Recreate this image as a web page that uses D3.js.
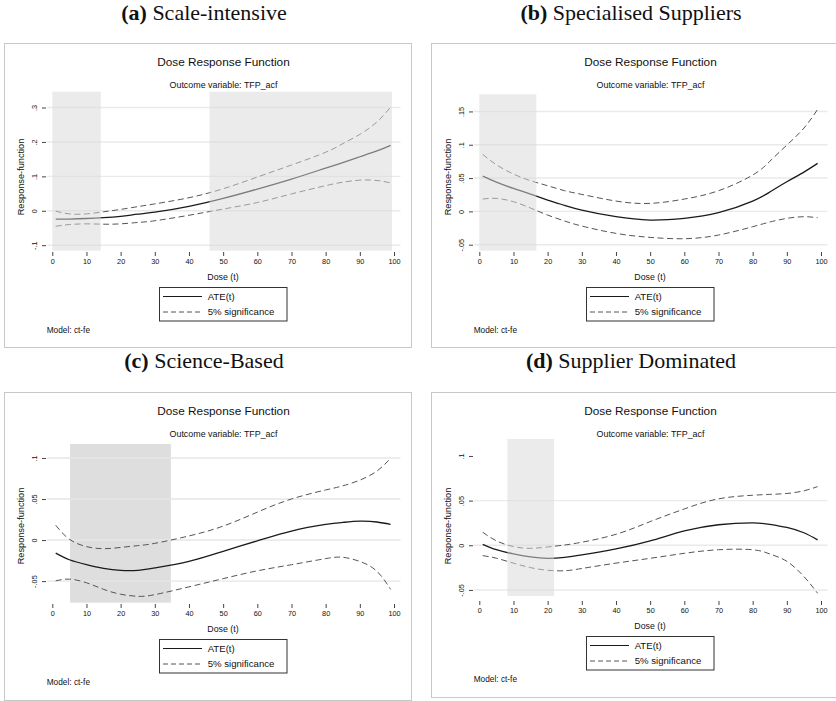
<!DOCTYPE html>
<html>
<head>
<meta charset="utf-8">
<script src="https://cdn.jsdelivr.net/npm/d3@7"></script>
<style>
body { margin: 0; background: #fff; }
svg { display: block; }
</style>
</head>
<body>
<div id="chart"></div>
<script>
// dose grid shared by all four panels
const dose = [1, 5, 10, 15, 20, 25, 30, 40, 50, 60, 70, 80, 85, 90, 95, 99];
const xTicks = [0, 10, 20, 30, 40, 50, 60, 70, 80, 90, 100];

// (a) Scale-intensive
const ateA = [-0.0245, -0.024, -0.0225, -0.020, -0.016, -0.010, -0.004, 0.013, 0.036, 0.063, 0.092, 0.124, 0.140, 0.157, 0.174, 0.190];
const upA  = [-0.001, -0.009, -0.009, -0.003, 0.004, 0.012, 0.020, 0.038, 0.064, 0.098, 0.133, 0.170, 0.195, 0.222, 0.258, 0.301];
const loA  = [-0.045, -0.040, -0.038, -0.039, -0.038, -0.034, -0.029, -0.013, 0.005, 0.024, 0.049, 0.073, 0.083, 0.089, 0.088, 0.081];
const yTicksA = [-0.1, 0, 0.1, 0.2, 0.3];
const yLabelsA = ["-.1", "0", ".1", ".2", ".3"];
const shadeA = [[0, 14.2], [46, 99.4]];

// (b) Specialised Suppliers
const ateB = [0.053, 0.044, 0.0345, 0.026, 0.017, 0.009, 0.002, -0.008, -0.013, -0.0105, -0.002, 0.0155, 0.029, 0.0445, 0.059, 0.072];
const upB  = [0.0855, 0.070, 0.056, 0.046, 0.0385, 0.031, 0.0255, 0.0155, 0.012, 0.0185, 0.031, 0.0545, 0.075, 0.0995, 0.125, 0.153];
const loB  = [0.0185, 0.0195, 0.0145, 0.005, -0.0055, -0.0145, -0.022, -0.033, -0.039, -0.041, -0.0355, -0.023, -0.016, -0.0105, -0.008, -0.0095];
const yTicksB = [-0.05, 0, 0.05, 0.1, 0.15];
const yLabelsB = ["-.05", "0", ".05", ".1", ".15"];
const shadeB = [[0, 16.7]];

// (c) Science-Based
const ateC = [-0.016, -0.024, -0.030, -0.0345, -0.037, -0.037, -0.034, -0.026, -0.0137, -0.001, 0.011, 0.019, 0.0215, 0.023, 0.022, 0.019];
const upC  = [0.018, 0.001, -0.008, -0.0105, -0.009, -0.0068, -0.004, 0.005, 0.017, 0.034, 0.050, 0.061, 0.066, 0.073, 0.084, 0.0996];
const loC  = [-0.0496, -0.0476, -0.052, -0.060, -0.066, -0.0685, -0.0665, -0.057, -0.047, -0.0375, -0.030, -0.0226, -0.021, -0.026, -0.038, -0.060];
const yTicksC = [-0.05, 0, 0.05, 0.1];
const yLabelsC = ["-.05", "0", ".05", ".1"];
const shadeC = [[5.2, 34.7]];

// (d) Supplier Dominated
const ateD = [0.001, -0.005, -0.0097, -0.013, -0.0146, -0.0135, -0.0108, -0.004, 0.005, 0.016, 0.023, 0.025, 0.0235, 0.020, 0.014, 0.006];
const upD  = [0.0146, 0.005, -0.0015, -0.0034, -0.0019, 0.0003, 0.0034, 0.0123, 0.0265, 0.0407, 0.052, 0.056, 0.057, 0.058, 0.061, 0.0657];
const loD  = [-0.0116, -0.0145, -0.020, -0.025, -0.028, -0.0285, -0.026, -0.020, -0.0146, -0.009, -0.005, -0.005, -0.0097, -0.018, -0.035, -0.0537];
const yTicksD = [-0.05, 0, 0.05, 0.1];
const yLabelsD = ["-.05", "0", ".05", ".1"];
const gridD = [-0.05, 0, 0.05];
const shadeD = [[8.2, 21.9]];

const legendLabels = ["ATE(t)", "5% significance"];

const panels = [
  {tag: "(a)", title: "Scale-intensive", bx: 4, by: 43, h: 304, tx: 204, ty: 20,
   yDom: [-0.116, 0.346], yRng: [207.7, 48.7], ticks: yTicksA, labels: yLabelsA, grid: yTicksA,
   shade: shadeA, under: false, ate: ateA, up: upA, lo: loA, off: 0},
  {tag: "(b)", title: "Specialised Suppliers", bx: 431, by: 43, h: 304, tx: 631, ty: 20,
   yDom: [-0.059, 0.1757], yRng: [207.7, 51.3], ticks: yTicksB, labels: yLabelsB, grid: yTicksB,
   shade: shadeB, under: false, ate: ateB, up: upB, lo: loB, off: 0},
  {tag: "(c)", title: "Science-Based", bx: 4, by: 392, h: 308, tx: 204, ty: 368,
   yDom: [-0.0763, 0.117], yRng: [210.7, 52], ticks: yTicksC, labels: yLabelsC, grid: yTicksC,
   shade: shadeC, under: true, ate: ateC, up: upC, lo: loC, off: 3},
  {tag: "(d)", title: "Supplier Dominated", bx: 431, by: 392, h: 305, tx: 631, ty: 368,
   yDom: [-0.0568, 0.119], yRng: [204, 47], ticks: yTicksD, labels: yLabelsD, grid: gridD,
   shade: shadeD, under: false, ate: ateD, up: upD, lo: loD, off: 0}
];

const sans = "'Liberation Sans', Arial, Helvetica, sans-serif";

const svg = d3.select("#chart").append("svg")
    .attr("width", 836)
    .attr("height", 701);

panels.forEach(p => {
  // subfigure caption
  const cap = svg.append("text")
      .attr("x", p.tx).attr("y", p.ty)
      .attr("text-anchor", "middle")
      .style("font-family", "'Liberation Serif', 'Times New Roman', serif")
      .style("font-size", "22px")
      .attr("fill", "#111");
  cap.append("tspan").style("font-weight", "bold").text(p.tag);
  cap.append("tspan").text(" " + p.title);

  const g = svg.append("g").attr("transform", `translate(${p.bx},${p.by})`);

  g.append("rect")
      .attr("x", 0.5).attr("y", 0.5)
      .attr("width", 407).attr("height", p.h)
      .attr("fill", "#fff")
      .attr("stroke", "#c8c8c8");

  const x = d3.scaleLinear().domain([0, 100]).range([48.3, 390]);
  const y = d3.scaleLinear().domain(p.yDom).range(p.yRng);

  const shade = () => g.append("g").selectAll("rect")
      .data(p.shade)
      .join("rect")
      .attr("x", d => x(d[0]))
      .attr("width", d => x(d[1]) - x(d[0]))
      .attr("y", y(p.yDom[1]))
      .attr("height", y(p.yDom[0]) - y(p.yDom[1]))
      .attr("fill", p.under ? "#dedede" : "#d8d8d8")
      .attr("opacity", p.under ? 1 : 0.52);

  if (p.under) shade();

  // grid lines
  g.append("g").selectAll("line")
      .data(p.grid)
      .join("line")
      .attr("x1", 43).attr("x2", 396.5)
      .attr("y1", d => y(d)).attr("y2", d => y(d))
      .attr("stroke", p.under ? "#e6e6e6" : "#eaeaea")
      .attr("stroke-width", 1.4);

  // y axis
  const yAxis = g.append("g")
      .attr("transform", "translate(42,0)")
      .call(d3.axisLeft(y).tickValues(p.ticks).tickSize(4).tickFormat((d, i) => p.labels[i]));
  yAxis.select(".domain").remove();
  yAxis.selectAll("line").attr("stroke", "#444");
  yAxis.selectAll("text")
      .attr("transform", "rotate(-90)")
      .attr("x", 0).attr("y", -9).attr("dy", 0)
      .attr("text-anchor", "middle")
      .style("font-family", sans).style("font-size", "7.3px").attr("fill", "#111");

  // x axis
  const xAxis = g.append("g")
      .attr("transform", `translate(0,${209 + p.off})`)
      .call(d3.axisBottom(x).tickValues(xTicks).tickSize(4));
  xAxis.select(".domain").remove();
  xAxis.selectAll("line").attr("stroke", "#444");
  xAxis.selectAll("text")
      .style("font-family", sans).style("font-size", "7.3px").attr("fill", "#111");

  // curves
  const line = vals => d3.line()
      .x((d, i) => x(dose[i]))
      .y(d => y(d))
      .curve(d3.curveNatural)(vals);

  [p.up, p.lo].forEach(v => {
    g.append("path").attr("d", line(v))
        .attr("fill", "none").attr("stroke", "#555")
        .attr("stroke-width", 1).attr("stroke-dasharray", "6,3.5");
  });
  g.append("path").attr("d", line(p.ate))
      .attr("fill", "none").attr("stroke", "#1a1a1a")
      .attr("stroke-width", 1.3);

  if (!p.under) shade();

  // titles
  g.append("text").attr("x", 219.5).attr("y", 23.3)
      .attr("text-anchor", "middle")
      .style("font-family", sans).style("font-size", "11.8px").attr("fill", "#111")
      .text("Dose Response Function");
  g.append("text").attr("x", 219.5).attr("y", 45)
      .attr("text-anchor", "middle")
      .style("font-family", sans).style("font-size", "8.9px").attr("fill", "#111")
      .text("Outcome variable: TFP_acf");
  g.append("text").attr("x", 219).attr("y", 236.5 + p.off)
      .attr("text-anchor", "middle")
      .style("font-family", sans).style("font-size", "8.8px").attr("fill", "#111")
      .text("Dose (t)");
  g.append("text")
      .attr("transform", "translate(20,134) rotate(-90)")
      .attr("text-anchor", "middle")
      .style("font-family", sans).style("font-size", "9.2px").attr("fill", "#111")
      .text("Response-function");

  // legend
  const lg = g.append("g").attr("transform", `translate(155,${244 + p.off})`);
  lg.append("rect").attr("x", 0.5).attr("y", 0.5)
      .attr("width", 127.5).attr("height", 33.5)
      .attr("fill", "#fff").attr("stroke", "#333");
  legendLabels.forEach((lab, i) => {
    const ly = 9.5 + i * 15.5;
    lg.append("line").attr("x1", 4).attr("x2", 43).attr("y1", ly).attr("y2", ly)
        .attr("stroke", i === 0 ? "#1a1a1a" : "#555")
        .attr("stroke-width", i === 0 ? 1.2 : 1)
        .attr("stroke-dasharray", i === 0 ? null : "5,3");
    lg.append("text").attr("x", 48.7).attr("y", ly + 3.4)
        .style("font-family", sans).style("font-size", "9.6px").attr("fill", "#111")
        .text(lab);
  });

  g.append("text").attr("x", 42.7).attr("y", 290.3 + p.off)
      .style("font-family", sans).style("font-size", "8.3px").attr("fill", "#111")
      .text("Model: ct-fe");
});
</script>
</body>
</html>
